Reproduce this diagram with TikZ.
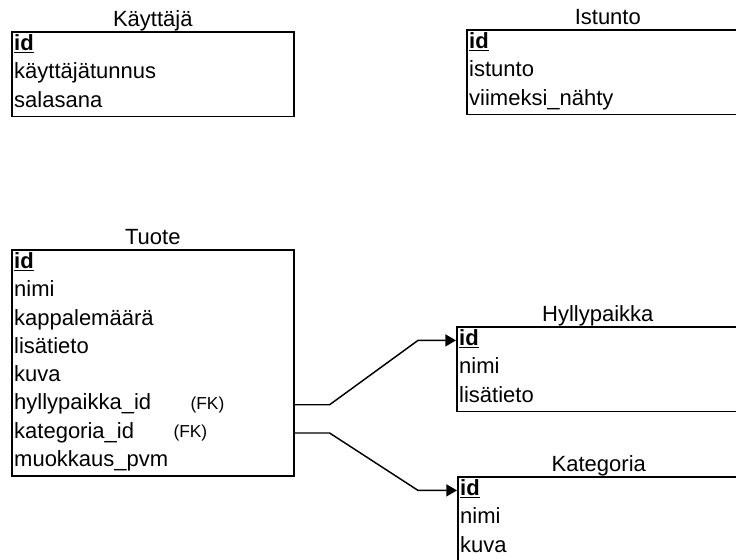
\documentclass[tikz,border=0pt]{standalone}
\usepackage{fontspec}
\setmainfont{Liberation Sans}
\usepackage{tikz}
\usetikzlibrary{arrows.meta,positioning,calc}

\begin{document}
\begin{tikzpicture}[
  x=0.75pt,y=-0.75pt,
  font=\fontsize{16.5}{20}\selectfont,
  tbl/.style={draw,line width=1.2pt,anchor=north west,minimum width=211.5pt,inner sep=0pt},
  ttl/.style={anchor=base,inner sep=0pt},
  fld/.style={anchor=north west,inner xsep=2.2pt,inner ysep=0pt,text height=14.5pt,text depth=6.7pt},
  fk/.style={font=\fontsize{13}{15}\selectfont,inner sep=0pt},
  ar/.style={-{Triangle[length=8pt,width=9pt]},line width=1.1pt}
]
\useasboundingbox (0,0) rectangle (736,560);

\node[tbl,minimum height=63.6pt] (kayttaja) at (11,31) {};
\node[ttl] (kayttaja-t) at ([yshift=3.5pt]kayttaja.north) {Käyttäjä};
\foreach \f [count=\i] in {\underline{\textbf{id}},käyttäjätunnus,salasana}
  \node[fld] (kayttaja-\i) at ([yshift={-(\i-1)*21.2pt}]kayttaja.north west) {\f};

\node[tbl,minimum height=63.6pt] (istunto) at (466,29) {};
\node[ttl] (istunto-t) at ([yshift=3.5pt]istunto.north) {Istunto};
\foreach \f [count=\i] in {\underline{\textbf{id}},istunto,viimeksi\_nähty}
  \node[fld] (istunto-\i) at ([yshift={-(\i-1)*21.2pt}]istunto.north west) {\f};

\node[tbl,minimum height=169.6pt] (tuote) at (11,249) {};
\node[ttl] (tuote-t) at ([yshift=3.5pt]tuote.north) {Tuote};
\foreach \f [count=\i] in {\underline{\textbf{id}},nimi,kappalemäärä,lisätieto,kuva,hyllypaikka\_id,kategoria\_id,muokkaus\_pvm}
  \node[fld] (tuote-\i) at ([yshift={-(\i-1)*21.2pt}]tuote.north west) {\f};
\node[fk,right=27pt of tuote-6] (fk-h) {(FK)};
\node[fk,right=27pt of tuote-7] (fk-k) {(FK)};

\node[tbl,minimum height=63.6pt] (hyllypaikka) at (456,326) {};
\node[ttl] (hyllypaikka-t) at ([yshift=3.5pt]hyllypaikka.north) {Hyllypaikka};
\foreach \f [count=\i] in {\underline{\textbf{id}},nimi,lisätieto}
  \node[fld] (hyllypaikka-\i) at ([yshift={-(\i-1)*21.2pt}]hyllypaikka.north west) {\f};

\node[tbl,minimum height=63.6pt] (kategoria) at (457,476) {};
\node[ttl] (kategoria-t) at ([yshift=3.5pt]kategoria.north) {Kategoria};
\foreach \f [count=\i] in {\underline{\textbf{id}},nimi,kuva}
  \node[fld] (kategoria-\i) at ([yshift={-(\i-1)*21.2pt}]kategoria.north west) {\f};

\draw[ar] (tuote-6.west -| tuote.east) -- ++(35,0) -- ($(hyllypaikka-1.west)+(-38,0)$) -- (hyllypaikka-1.west);
\draw[ar] (tuote-7.west -| tuote.east) -- ++(35,0) -- ($(kategoria-1.west)+(-39,0)$) -- (kategoria-1.west);
\end{tikzpicture}
\end{document}
